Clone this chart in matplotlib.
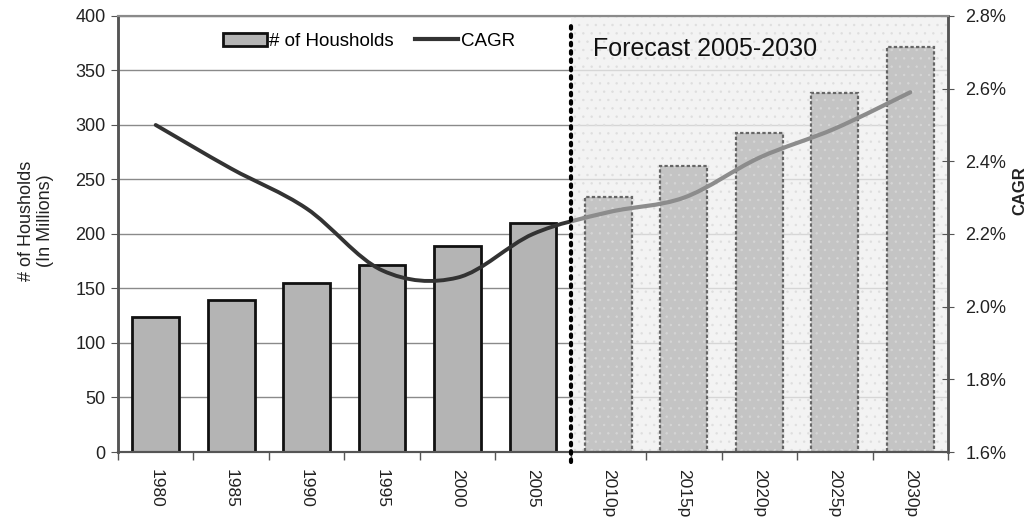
import matplotlib
matplotlib.use("Agg")
import matplotlib.pyplot as plt
import numpy as np
from matplotlib.path import Path
from matplotlib.patches import PathPatch, Rectangle, Patch
from matplotlib.lines import Line2D
import matplotlib.transforms as mtransforms

plt.rcParams['font.family'] = ['Liberation Sans', 'DejaVu Sans']
plt.rcParams['hatch.linewidth'] = 0.5

# ---- data ----
years = ["1980", "1985", "1990", "1995", "2000", "2005",
         "2010p", "2015p", "2020p", "2025p", "2030p"]
households = [124, 139, 155, 172, 189, 210, 234, 262, 293, 329, 372]
cagr = [2.50, 2.38, 2.27, 2.10, 2.08, 2.20, 2.26, 2.30, 2.41, 2.49, 2.59]
n_hist = 6
left_ticks = [0, 50, 100, 150, 200, 250, 300, 350, 400]
right_ticks = [1.6, 1.8, 2.0, 2.2, 2.4, 2.6, 2.8]
forecast_label = "Forecast 2005-2030"

fig = plt.figure(figsize=(10.33, 5.24), dpi=100)
ax = fig.add_axes([0.1142, 0.1374, 0.9177 - 0.1142, 0.9695 - 0.1374])
ax2 = ax.twinx()

x = np.arange(len(years))
split = n_hist - 0.5

# gridlines
ax.set_ylim(0, 400)
ax.set_xlim(-0.5, len(years) - 0.5)
ax.set_yticks(left_ticks)
ax.yaxis.grid(True, color='#8a8a8a', linewidth=1.0, zorder=0)
ax.set_axisbelow(True)

# forecast shaded region
ax.axvspan(split, len(years) - 0.5, facecolor='#f0f0f0', edgecolor='none',
           alpha=0.75, zorder=1.2)
ax.axvspan(split, len(years) - 0.5, facecolor='none', edgecolor='#dedede',
           hatch='..', linewidth=0, zorder=1.3)

# bars
hx = x[:n_hist]
fx = x[n_hist:]
ax.bar(hx, households[:n_hist], width=0.62, color='#b4b4b4',
       edgecolor='#111111', linewidth=2.0, zorder=2)
ax.bar(fx, households[n_hist:], width=0.62, color='#c4c4c4',
       edgecolor='none', linewidth=0, zorder=2)
ax.bar(fx, households[n_hist:], width=0.62, color='none',
       edgecolor='#d6d6d6', hatch='..', linewidth=0, zorder=2.1)
ax.bar(fx, households[n_hist:], width=0.62, color='none',
       edgecolor='#666666', linewidth=1.6, linestyle=(0, (1.5, 1)), zorder=2.2)

# CAGR smoothed line (Catmull-Rom through the data points)
ax2.set_ylim(1.6, 2.8)
ax2.set_yticks(right_ticks)
ax2.set_yticklabels([f"{v:.1f}%" for v in right_ticks])
cx = x.astype(float)
cy = np.array(cagr, dtype=float)
verts = [(cx[0], cy[0])]
codes = [Path.MOVETO]
for i in range(len(cx) - 1):
    p0 = np.array([cx[max(i - 1, 0)], cy[max(i - 1, 0)]])
    p1 = np.array([cx[i], cy[i]])
    p2 = np.array([cx[i + 1], cy[i + 1]])
    p3 = np.array([cx[min(i + 2, len(cx) - 1)], cy[min(i + 2, len(cx) - 1)]])
    c1 = p1 + (p2 - p0) / 6.0
    c2 = p2 - (p3 - p1) / 6.0
    verts += [tuple(c1), tuple(c2), tuple(p2)]
    codes += [Path.CURVE4] * 3
path = Path(verts, codes)
blend = mtransforms.blended_transform_factory(ax2.transData, ax2.transAxes)
clip_hist = Rectangle((-0.5, 0), split + 0.5, 1, transform=blend)
clip_fc = Rectangle((split, 0), len(years), 1, transform=blend)
pp1 = PathPatch(path, facecolor='none', edgecolor='#333333', linewidth=2.8,
                zorder=3, capstyle='round')
pp2 = PathPatch(path, facecolor='none', edgecolor='#8c8c8c', linewidth=3.0,
                zorder=3, capstyle='round')
ax2.add_patch(pp1)
ax2.add_patch(pp2)
pp1.set_clip_path(clip_hist)
pp2.set_clip_path(clip_fc)

# dotted divider
ax2.plot([split, split], [-0.023, 0.979], transform=blend, color='black',
         linestyle=(0, (0.6, 1.4)), linewidth=3.0, dash_capstyle='round',
         clip_on=False, zorder=5)

# forecast label
ax2.text(split + 0.3, 0.925, forecast_label, transform=blend, fontsize=18,
         color='#111111', va='center', ha='left', zorder=6)

# x axis ticks
ax.set_xticks(x)
ax.set_xticklabels(years, rotation=270, fontsize=12.5, color='#222222')
ax.tick_params(axis='x', which='major', length=0, pad=12)
ax.set_xticks(np.arange(-0.5, len(years), 1.0), minor=True)
ax.tick_params(axis='x', which='minor', length=6, direction='out',
               color='#555555', width=1)

ax.tick_params(axis='y', labelsize=13, length=5, direction='out',
               color='#555555', labelcolor='#222222', pad=4)
ax2.tick_params(axis='y', labelsize=13, length=9, direction='inout',
                color='#555555', labelcolor='#222222', pad=8)

for a in (ax, ax2):
    a.spines['top'].set_color('#8a8a8a')
    a.spines['top'].set_linewidth(1.5)
    a.spines['left'].set_color('#555555')
    a.spines['left'].set_linewidth(1.8)
    a.spines['right'].set_color('#555555')
    a.spines['right'].set_linewidth(1.8)
    a.spines['bottom'].set_color('#555555')
    a.spines['bottom'].set_linewidth(1.5)

ax.set_ylabel("# of Housholds\n(In Millions)", fontsize=13, color='#222222',
              linespacing=1.15)
ax.yaxis.set_label_coords(-0.077, 0.53)
ax2.set_ylabel("CAGR", fontsize=12, fontweight='bold', color='#222222')
ax2.yaxis.set_label_coords(1.078, 0.60)

# legend
handles = [Patch(facecolor='#b4b4b4', edgecolor='#111111', linewidth=2.0),
           Line2D([], [], color='#333333', linewidth=3)]
leg = ax2.legend(handles, ["# of Housholds", "CAGR"], ncol=2, frameon=False,
                 loc='upper left', bbox_to_anchor=(0.2, 0.97),
                 bbox_transform=fig.transFigure, fontsize=13.5,
                 handlelength=2.3, handletextpad=0.15, columnspacing=1.1,
                 handleheight=0.75)

fig.savefig("out.png", dpi=100)
